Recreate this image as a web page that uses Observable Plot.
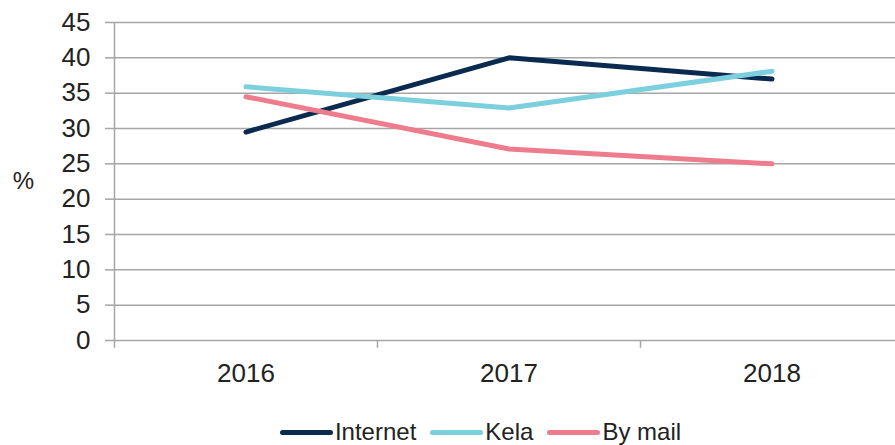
<!DOCTYPE html>
<html>
<head>
<meta charset="utf-8">
<script src="https://cdn.jsdelivr.net/npm/d3@7"></script>
<script src="https://cdn.jsdelivr.net/npm/@observablehq/plot@0.6"></script>
<style>
  html, body { margin: 0; padding: 0; background: #fff; overflow: hidden; }
  body { font-family: "Liberation Sans", Arial, sans-serif; width: 895px; height: 445px; position: relative; }
  #legend { position: absolute; top: 418px; left: 33px; width: 895px; height: 28px; display: flex; justify-content: center; align-items: center; font-size: 24px; color: #222; }
  .item { display: flex; align-items: center; margin: 0 7px; }
  .sw { width: 53px; height: 5px; border-radius: 3px; margin-right: 2px; }
</style>
</head>
<body>
<div id="chart"></div>
<div id="legend"></div>
<script>
const years = [2016, 2017, 2018];
const seriesNames = ["Internet", "Kela", "By mail"];
const internet = [29.5, 40.0, 37.0];
const kela = [35.9, 32.9, 38.1];
const byMail = [34.5, 27.1, 25.0];
const colors = ["#0b2a4f", "#7ccfdc", "#ee7c8c"];
const yTicks = [0, 5, 10, 15, 20, 25, 30, 35, 40, 45];

const seriesValues = [internet, kela, byMail];
const data = [];
seriesNames.forEach((s, i) => years.forEach((y, j) => data.push({series: s, year: y, value: seriesValues[i][j]})));

const gridColor = "#a6a6a6";
const textColor = "#222";
const bounds = [years[0] - 0.5, ...years.map(y => y + 0.5)];

const plot = Plot.plot({
  width: 895,
  height: 400,
  marginLeft: 114,
  marginRight: 0,
  marginTop: 22,
  marginBottom: 60,
  style: {fontFamily: "Liberation Sans, Arial, sans-serif", background: "white", overflow: "visible"},
  x: {type: "linear", domain: [bounds[0], bounds[3]], range: [114, 903]},
  y: {domain: [0, 45], range: [340, 22]},
  color: {domain: seriesNames, range: colors},
  marks: [
    Plot.gridY(yTicks, {stroke: gridColor, strokeOpacity: 1, strokeWidth: 1.5}),
    Plot.axisY(yTicks, {tickSize: 9, tickPadding: 15, fontSize: 26, label: null, stroke: gridColor, strokeWidth: 1.5, fill: textColor}),
    Plot.ruleX([bounds[0]], {y1: -1.1, y2: 45, stroke: gridColor, strokeWidth: 1.5}),
    Plot.ruleX(bounds.slice(1, 3), {y1: 0, y2: -1.1, stroke: gridColor, strokeWidth: 1.5}),
    Plot.axisX(years, {tickSize: 0, tickPadding: 23, fontSize: 26, label: null, tickFormat: d => String(d), fill: textColor}),
    Plot.line(data, {x: "year", y: "value", z: "series", stroke: "series", strokeWidth: 5, strokeLinecap: "round", strokeLinejoin: "round"}),
    Plot.text(["%"], {frameAnchor: "left", dx: -91, textAnchor: "middle", fontSize: 24, fill: textColor})
  ]
});
document.getElementById("chart").appendChild(plot);

const legend = document.getElementById("legend");
seriesNames.forEach((s, i) => {
  const item = document.createElement("div");
  item.className = "item";
  const sw = document.createElement("div");
  sw.className = "sw";
  sw.style.background = colors[i];
  const label = document.createElement("span");
  label.textContent = s;
  item.appendChild(sw);
  item.appendChild(label);
  legend.appendChild(item);
});
</script>
</body>
</html>
